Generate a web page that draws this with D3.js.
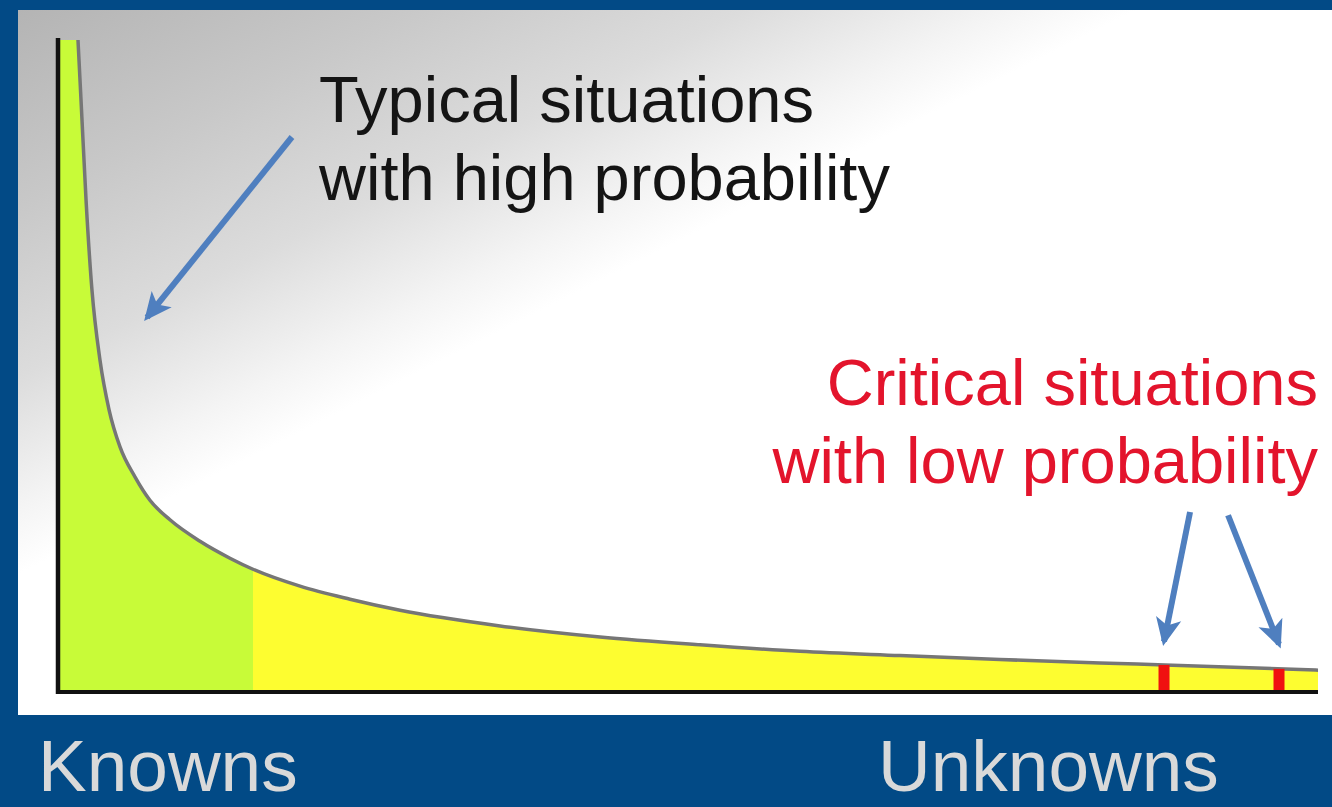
<!DOCTYPE html>
<html>
<head>
<meta charset="utf-8">
<script src="https://cdn.jsdelivr.net/npm/d3@7"></script>
<style>
  html, body { margin: 0; padding: 0; background: #024a86; }
  svg { display: block; }
  text { font-family: "Liberation Sans", Arial, sans-serif; }
</style>
</head>
<body>
<svg id="chart" width="1332" height="807"></svg>
<script>
// Long-tail probability curve (x: situations ordered by frequency, y: probability)
const curveX = [0, 1.43, 1.67, 2.07, 2.54, 3.18, 3.90, 4.77, 5.96, 7.15, 8.74, 11.13, 13.51, 15.34, 19.08, 23.05, 27.03, 34.98, 42.93, 50.87, 58.82, 66.77, 74.72, 82.67, 87.84, 100];
const curveY = [100, 100, 90.8, 75.4, 61.6, 50.8, 43.2, 37.5, 32.9, 29.3, 26.3, 23.0, 20.4, 18.7, 16.1, 14.1, 12.4, 10.0, 8.3, 7.1, 6.1, 5.45, 4.84, 4.3, 4.0, 3.2];

// Boundary between the well-known head and the tail
const knownLimit = 15.34;

// Rare but critical situations in the tail
const criticalX = [87.76, 96.9];
const criticalY = [4.0, 3.4];

// Annotation arrows, in data units
const arrowFrom = [[18.44, 85.1], [89.83, 27.5], [92.85, 27.0]];
const arrowTo   = [[6.92, 57.4], [87.76, 7.6], [96.9, 7.2]];

const headText = ["Typical situations", "with high probability"];
const tailText = ["Critical situations", "with low probability"];
const bottomLabels = ["Knowns", "Unknowns"];

const svg = d3.select("#chart");
const W = 1332, H = 807;

// Background and white panel
svg.append("rect").attr("width", W).attr("height", H).attr("fill", "#024a86");

const defs = svg.append("defs");
const grad = defs.append("linearGradient")
  .attr("id", "panelShade")
  .attr("gradientUnits", "userSpaceOnUse")
  .attr("x1", 18).attr("y1", 10).attr("x2", 245).attr("y2", 460);
[[0, "#b4b4b4"], [0.35, "#c8c8c8"], [0.65, "#dcdcdc"], [0.88, "#f4f4f4"], [1, "#ffffff"]]
  .forEach(([o, c]) => grad.append("stop").attr("offset", o).attr("stop-color", c));

svg.append("rect").attr("x", 18).attr("y", 10).attr("width", W - 18).attr("height", 705)
  .attr("fill", "#ffffff");
svg.append("rect").attr("x", 18).attr("y", 10).attr("width", W - 18).attr("height", 705)
  .attr("fill", "url(#panelShade)");

// Scales
const x = d3.scaleLinear().domain([0, 100]).range([60, 1318]);
const y = d3.scaleLinear().domain([0, 100]).range([691, 40]);

const pts = curveX.map((v, i) => [v, curveY[i]]);

const area = d3.area()
  .x(d => x(d[0]))
  .y0(y(0))
  .y1(d => y(d[1]))
  .curve(d3.curveMonotoneX);

const line = d3.line()
  .x(d => x(d[0]))
  .y(d => y(d[1]))
  .curve(d3.curveMonotoneX);

defs.append("clipPath").attr("id", "clipHead")
  .append("rect").attr("x", x(0)).attr("y", 0)
  .attr("width", x(knownLimit) - x(0)).attr("height", H);
defs.append("clipPath").attr("id", "clipTail")
  .append("rect").attr("x", x(knownLimit)).attr("y", 0)
  .attr("width", x(100) - x(knownLimit)).attr("height", H);

svg.append("path").datum(pts).attr("d", area)
  .attr("fill", "#c8fb38").attr("clip-path", "url(#clipHead)");
svg.append("path").datum(pts).attr("d", area)
  .attr("fill", "#fdfd30").attr("clip-path", "url(#clipTail)");

// Curve outline (skip the flat top)
svg.append("path").datum(pts.slice(1)).attr("d", line)
  .attr("fill", "none").attr("stroke", "#767676").attr("stroke-width", 3.5);

// Critical situation markers
svg.selectAll("rect.crit").data(criticalX).join("rect")
  .attr("class", "crit")
  .attr("x", d => x(d) - 5.5)
  .attr("width", 11)
  .attr("y", (d, i) => y(criticalY[i]))
  .attr("height", (d, i) => y(0) - y(criticalY[i]))
  .attr("fill", "#f01010");

// Axes
svg.append("line")
  .attr("x1", x(0) - 2).attr("x2", x(0) - 2)
  .attr("y1", y(100) - 2).attr("y2", y(0) + 3)
  .attr("stroke", "#111").attr("stroke-width", 4.5);
svg.append("line")
  .attr("x1", x(0) - 4).attr("x2", x(100))
  .attr("y1", y(0) + 1).attr("y2", y(0) + 1)
  .attr("stroke", "#111").attr("stroke-width", 4);

// Arrows
defs.append("marker")
  .attr("id", "arrowHead")
  .attr("markerUnits", "userSpaceOnUse")
  .attr("viewBox", "0 0 12 12")
  .attr("refX", 10).attr("refY", 6)
  .attr("markerWidth", 28).attr("markerHeight", 28)
  .attr("orient", "auto")
  .append("path")
  .attr("d", "M0,0.5 L12,6 L0,11.5 L3,6 Z")
  .attr("fill", "#4f7fbf");

svg.selectAll("line.arrow").data(arrowFrom).join("line")
  .attr("class", "arrow")
  .attr("x1", d => x(d[0])).attr("y1", d => y(d[1]))
  .attr("x2", (d, i) => x(arrowTo[i][0])).attr("y2", (d, i) => y(arrowTo[i][1]))
  .attr("stroke", "#4f7fbf").attr("stroke-width", 6)
  .attr("marker-end", "url(#arrowHead)");

// Annotations
svg.append("text")
  .attr("x", 319).attr("y", 122)
  .attr("font-size", 65).attr("fill", "#141414")
  .selectAll("tspan").data(headText).join("tspan")
  .attr("x", 319).attr("dy", (d, i) => i ? 78 : 0)
  .text(d => d);

svg.append("text")
  .attr("x", 1318).attr("y", 405)
  .attr("font-size", 65).attr("fill", "#e3142c")
  .attr("text-anchor", "end")
  .selectAll("tspan").data(tailText).join("tspan")
  .attr("x", 1318).attr("dy", (d, i) => i ? 78 : 0)
  .text(d => d);

// Bottom labels
svg.selectAll("text.bottom").data(bottomLabels).join("text")
  .attr("class", "bottom")
  .attr("x", (d, i) => i ? 878 : 38)
  .attr("y", 791)
  .attr("font-size", 73)
  .attr("fill", "#d9d9d9")
  .text(d => d);
</script>
</body>
</html>
